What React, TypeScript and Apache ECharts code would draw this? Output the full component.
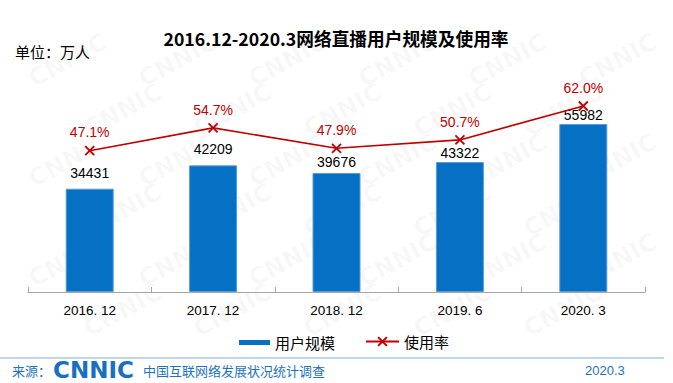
import React, { useEffect, useRef } from "react";
import * as echarts from "echarts";

const categories = ["2016. 12", "2017. 12", "2018. 12", "2019. 6", "2020. 3"];
const userScale = [34431, 42209, 39676, 43322, 55982];
const usageRate = [47.1, 54.7, 47.9, 50.7, 62.0];
const seriesNames = ["用户规模", "使用率"];
const titleText = "2016.12-2020.3网络直播用户规模及使用率";
const unitText = "单位：万人";

const CJK = '"Noto Sans CJK SC", "Microsoft YaHei", sans-serif';
const LAT = '"Liberation Sans", Arial, sans-serif';

function watermarks() {
  const items: any[] = [];
  for (let r = 0; r < 9; r++) {
    for (let c = 0; c < 8; c++) {
      const x = c * 110 + (r % 2) * 55 - 30;
      const y = r * 50 + 20;
      if (x < 4 || x > 673 - 96 || y < 50 || y > 383 - 34) continue;
      items.push({
        type: "text",
        x,
        y,
        rotation: 0.5,
        silent: true,
        z: -10,
        style: {
          text: "CNNIC",
          fill: "rgba(0,0,0,0.035)",
          font: 'bold 24px "DejaVu Sans", sans-serif',
        },
      });
    }
  }
  return items;
}

export default function App() {
  const ref = useRef<HTMLDivElement>(null);
  useEffect(() => {
    document.body.style.margin = "0";
    const chart = echarts.init(ref.current!, null, { renderer: "svg" });
    const barLabelDist = [9, 9, 4, 2, 2];
    chart.setOption({
      animation: false,
      backgroundColor: "#ffffff",
      title: {
        text: titleText,
        left: 331,
        textAlign: "center",
        top: 24,
        textStyle: { fontFamily: CJK, fontWeight: "bold", fontSize: 17.7, color: "#000" },
      },
      legend: [
        {
          data: [{ name: seriesNames[0], icon: "rect", itemStyle: { borderWidth: 0 } }],
          left: 239,
          top: 335,
          padding: 0,
          itemWidth: 31,
          itemHeight: 5,
          textStyle: { fontFamily: CJK, fontSize: 15, color: "#000" },
        },
        {
          data: [{ name: seriesNames[1] }],
          left: 365,
          top: 334,
          padding: 0,
          itemWidth: 33,
          itemHeight: 11,
          textStyle: { fontFamily: CJK, fontSize: 15, color: "#000" },
        },
      ],
      grid: { left: 28, right: 28, top: 52, bottom: 91, containLabel: false },
      xAxis: {
        type: "category",
        data: categories,
        boundaryGap: true,
        axisLine: { lineStyle: { color: "#a6a6a6", width: 1 } },
        axisTick: { show: true, inside: true, length: 5, lineStyle: { color: "#a6a6a6" } },
        axisLabel: { color: "#000", fontSize: 13.5, margin: 11, fontFamily: LAT },
      },
      yAxis: [
        { type: "value", min: 0, max: 80000, show: false, splitLine: { show: false } },
        { type: "value", min: 0, max: 80, show: false, splitLine: { show: false } },
      ],
      series: [
        {
          name: seriesNames[0],
          type: "bar",
          data: userScale.map((v, i) => ({ value: v, label: { distance: barLabelDist[i] } })),
          barWidth: 48,
          itemStyle: { color: "#0670C4", borderColor: "#5B9BD5", borderWidth: 1 },
          label: {
            show: true,
            position: "top",
            color: "#000",
            fontSize: 14,
            fontFamily: LAT,
          },
        },
        {
          name: seriesNames[1],
          type: "line",
          yAxisIndex: 1,
          data: usageRate,
          symbol: "path://M0,0L10,10M10,0L0,10",
          symbolSize: 9,
          lineStyle: { color: "#C00000", width: 1.6 },
          itemStyle: { color: "#C00000", borderColor: "#C00000", borderWidth: 1.8 },
          label: {
            show: true,
            position: "top",
            distance: 6,
            color: "#C00000",
            fontSize: 14,
            fontFamily: LAT,
            formatter: (p: any) => p.value.toFixed(1) + "%",
          },
        },
      ],
      graphic: [
        ...watermarks(),
        {
          type: "text",
          left: 15,
          top: 44,
          style: { text: unitText, font: `15px ${CJK}`, fill: "#000" },
        },
        {
          type: "rect",
          shape: { x: 0, y: 357, width: 664, height: 2 },
          style: { fill: "#BDD7EE" },
          silent: true,
        },
        {
          type: "text",
          x: 12,
          y: 370,
          style: { text: "来源：", font: `13px ${CJK}`, fill: "#1E73BE", verticalAlign: "middle" },
        },
        {
          type: "text",
          x: 53,
          y: 370,
          style: {
            text: "CNNIC",
            font: 'bold 23px "DejaVu Sans", sans-serif',
            fill: "#1A6FC2",
            verticalAlign: "middle",
          },
        },
        {
          type: "text",
          x: 143,
          y: 370,
          style: {
            text: "中国互联网络发展状况统计调查",
            font: `13px ${CJK}`,
            fill: "#1E73BE",
            verticalAlign: "middle",
          },
        },
        {
          type: "text",
          x: 585,
          y: 370,
          style: { text: "2020.3", font: `13px ${LAT}`, fill: "#1E73BE", verticalAlign: "middle" },
        },
      ],
    });
    return () => chart.dispose();
  }, []);
  return (
    <div
      ref={ref}
      style={{ position: "absolute", left: 0, top: 0, width: 673, height: 383 }}
    />
  );
}
